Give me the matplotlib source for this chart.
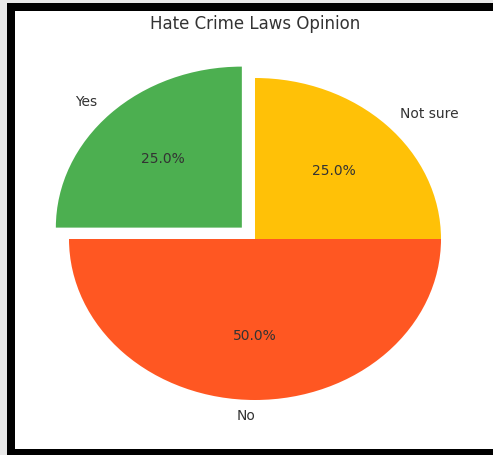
import matplotlib
matplotlib.use("Agg")
import matplotlib.pyplot as plt
from matplotlib.patches import Rectangle

labels = ['Yes', 'No', 'Not sure']
sizes = [25, 50, 25]
colors = ['#4CAF50', '#FF5722', '#FFC107']
explode = (0.1, 0, 0)

W, H = 493, 455
fig = plt.figure(figsize=(W / 100, H / 100), dpi=100)
fig.patch.set_facecolor('white')

# black frame (cropped on the right)
fig.patches.append(Rectangle((0, 0), 7 / W, 1, transform=fig.transFigure,
                             facecolor='#e8e8e8', edgecolor='none', zorder=0))
fig.patches.append(Rectangle((7 / W, 0), 8 / W, 1 - 3 / H, transform=fig.transFigure,
                             facecolor='black', edgecolor='none', zorder=1))
fig.patches.append(Rectangle((7 / W, 1 - 11 / H), 1, 8 / H, transform=fig.transFigure,
                             facecolor='black', edgecolor='none', zorder=1))
fig.patches.append(Rectangle((0, 1 - 3 / H), 1, 3 / H, transform=fig.transFigure,
                             facecolor='#e8e8e8', edgecolor='none', zorder=0))
fig.patches.append(Rectangle((7 / W, 0), 1, 6 / H, transform=fig.transFigure,
                             facecolor='black', edgecolor='none', zorder=1))

# axes sized so the pie comes out stretched like the reference
rx, ry = 186, 161
cx, cy = 255, 455 - 239
lim = 1.3
ax = fig.add_axes([(cx - lim * rx) / W, (cy - lim * ry) / H,
                   2 * lim * rx / W, 2 * lim * ry / H])
wedges, texts, autotexts = ax.pie(sizes, labels=labels, colors=colors, explode=explode,
                                  autopct='%1.1f%%', startangle=90,
                                  textprops={'fontsize': 10, 'color': '#333333'})
texts[1].set_ha('right')
ax.set_aspect('auto')
ax.set_xlim(-lim, lim)
ax.set_ylim(-lim, lim)
ax.axis('off')

fig.text(cx / W, 1 - 24 / H, 'Hate Crime Laws Opinion', ha='center', va='center',
         fontsize=12, color='#333333')

fig.savefig('out.png', dpi=100)
